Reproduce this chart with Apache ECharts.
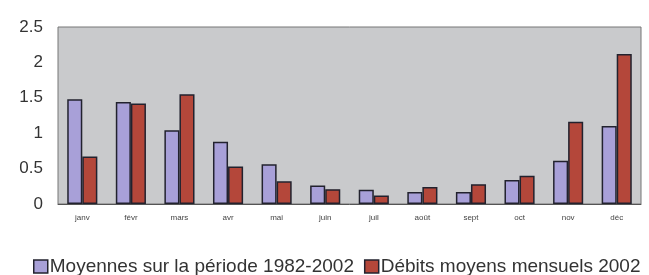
<!DOCTYPE html>
<html>
<head>
<meta charset="utf-8">
<script src="https://cdn.jsdelivr.net/npm/echarts@6/dist/echarts.min.js"></script>
<style>
html,body{margin:0;padding:0;background:#fff;}
#main{width:649px;height:275px;}
</style>
</head>
<body>
<div id="main"></div>
<script type="text/javascript">
	// mois
	var mois = ["janv","févr","mars","avr","mai","juin","juil","août","sept","oct","nov","déc"];
	// moyennes 1982-2002
	var moyennes = [1.48,1.44,1.04,0.88,0.56,0.26,0.20,0.17,0.17,0.34,0.61,1.10];
	// débits 2002
	var debits2002 = [0.67,1.42,1.55,0.53,0.32,0.21,0.12,0.24,0.28,0.40,1.16,2.12];
	var yTicks = [0,0.5,1,1.5,2,2.5];

	var myChart = echarts.init(document.getElementById("main"));

	var option = {
		animation:false,
		legend:{
			left:33,
			top:257,
			width:660,
			padding:0,
			itemWidth:14,
			itemHeight:13,
			itemGap:10,
			icon:'rect',
			itemStyle:{borderColor:'#22222e',borderWidth:1.5},
			textStyle:{fontFamily:'Liberation Sans',fontSize:19,color:'#333',padding:[0,0,0,-3]},
			data:["Moyennes sur la période 1982-2002","Débits moyens mensuels 2002"]
		},
		grid:{
			left:58,
			right:8,
			top:27,
			bottom:71,
			show:true,
			backgroundColor:'#c9cacc',
			borderColor:'#777',
			borderWidth:1
		},
		xAxis:[{
			type:'category',
			data:mois,
			axisLine:{show:true,lineStyle:{color:'#555'}},
			axisTick:{show:false},
			axisLabel:{fontFamily:'Liberation Sans',fontSize:8,color:'#444',margin:10}
		}],
		yAxis:[{
			type:'value',
			min:yTicks[0],
			max:yTicks[yTicks.length-1],
			interval:0.5,
			splitLine:{show:false},
			axisLine:{show:false},
			axisTick:{show:false},
			axisLabel:{fontFamily:'Liberation Sans',fontSize:17,color:'#333',margin:15}
		}],
		series:[
			{
				name:"Moyennes sur la période 1982-2002",
				type:'bar',
				data:moyennes,
				barGap:'0%',
				barCategoryGap:'38%',
				itemStyle:{color:'#a8a0d8',borderColor:'#22222e',borderWidth:1.5}
			},
			{
				name:"Débits moyens mensuels 2002",
				type:'bar',
				data:debits2002,
				itemStyle:{color:'#b4473a',borderColor:'#22222e',borderWidth:1.5}
			}
		]
	};

	myChart.setOption(option);
</script>
</body>
</html>
